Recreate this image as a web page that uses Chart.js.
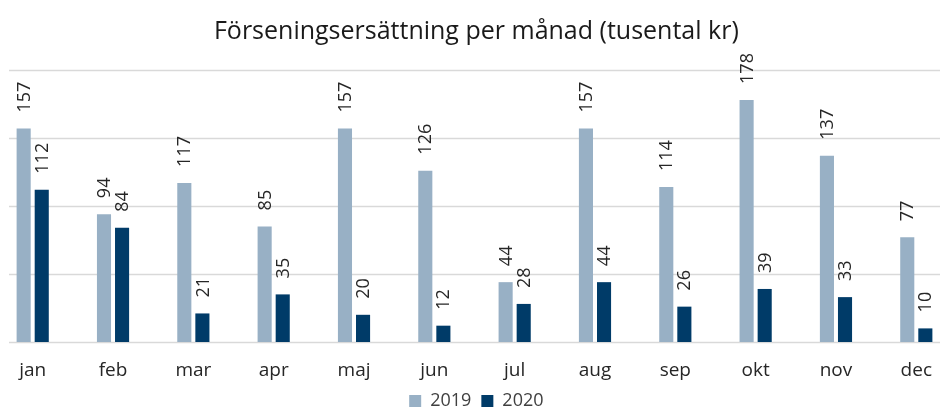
<!DOCTYPE html>
<html>
<head>
<meta charset="utf-8">
<script src="https://cdn.jsdelivr.net/npm/chart.js@4"></script>
<style>
html,body{margin:0;padding:0;background:#fff;}
#wrap{width:949px;height:410px;position:relative;}
</style>
</head>
<body>
<div id="wrap"><canvas id="c"></canvas></div>
<script>
const months = ['jan','feb','mar','apr','maj','jun','jul','aug','sep','okt','nov','dec'];
const values2019 = [157, 94, 117, 85, 157, 126, 44, 157, 114, 178, 137, 77];
const values2020 = [112, 84, 21, 35, 20, 12, 28, 44, 26, 39, 33, 10];
const seriesNames = ['2019', '2020'];
const yTicks = [0, 50, 100, 150, 200];

const FONT = "'Open Sans', sans-serif";

const gridPlugin = {
  id: 'extGrid',
  beforeDatasetsDraw(chart) {
    const ctx = chart.ctx, y = chart.scales.y;
    ctx.save();
    ctx.strokeStyle = '#d9d9d9';
    ctx.lineWidth = 1.3;
    yTicks.forEach(v => {
      const py = Math.round(y.getPixelForValue(v)) + 0.5;
      ctx.beginPath();
      ctx.moveTo(9, py);
      ctx.lineTo(940, py);
      ctx.stroke();
    });
    ctx.restore();
  }
};

const labelPlugin = {
  id: 'vLabels',
  afterDatasetsDraw(chart) {
    const ctx = chart.ctx;
    ctx.save();
    ctx.fillStyle = '#262626';
    ctx.font = "18px " + FONT;
    ctx.textAlign = 'left';
    ctx.textBaseline = 'middle';
    chart.data.datasets.forEach((ds, di) => {
      const meta = chart.getDatasetMeta(di);
      meta.data.forEach((el, i) => {
        ctx.save();
        ctx.translate(el.x + 1, el.y - 16);
        ctx.rotate(-Math.PI / 2);
        ctx.fillText(String(ds.data[i]), 0, 0);
        ctx.restore();
      });
    });
    ctx.restore();
  }
};

new Chart(document.getElementById('c'), {
  type: 'bar',
  data: {
    labels: months,
    datasets: [
      { label: seriesNames[0], data: values2019, backgroundColor: '#98B0C5', clip: false },
      { label: seriesNames[1], data: values2020, backgroundColor: '#003B68', clip: false }
    ]
  },
  options: {
    responsive: true,
    maintainAspectRatio: false,
    animation: false,
    layout: { padding: { left: 32.7, right: 29, top: 0, bottom: -10 } },
    datasets: { bar: { categoryPercentage: 0.45, barPercentage: 0.78 } },
    plugins: {
      title: {
        display: true,
        text: 'Förseningsersättning per månad (tusental kr)',
        color: '#1a1a1a',
        font: { family: FONT, size: 25, weight: 'normal' },
        padding: { top: 17, bottom: 23 }
      },
      legend: {
        position: 'bottom',
        labels: {
          color: '#404040',
          font: { family: FONT, size: 18 },
          boxWidth: 12,
          boxHeight: 12,
          padding: 10
        }
      },
      tooltip: { enabled: false }
    },
    scales: {
      x: {
        offset: false,
        grid: { display: false, drawTicks: false },
        border: { display: false },
        ticks: { color: '#262626', font: { family: FONT, size: 19 }, padding: 17, maxRotation: 0 },
        afterFit(scale) { scale.height = 40; }
      },
      y: {
        display: false,
        min: 0, max: 200,
        afterBuildTicks(scale) { scale.ticks = yTicks.map(v => ({ value: v })); }
      }
    }
  },
  plugins: [gridPlugin, labelPlugin]
});
</script>
</body>
</html>
